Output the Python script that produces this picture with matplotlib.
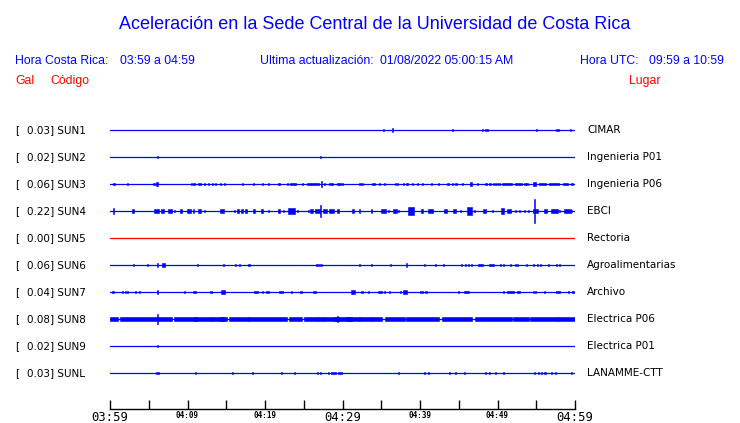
import matplotlib
matplotlib.use("Agg")
import matplotlib.pyplot as plt
import matplotlib.transforms as mtransforms

# ---------------- data ----------------
stations = ["SUN1", "SUN2", "SUN3", "SUN4", "SUN5", "SUN6", "SUN7", "SUN8", "SUN9", "SUNL"]
peak_gal = ["0.03", "0.02", "0.06", "0.22", "0.00", "0.06", "0.04", "0.08", "0.02", "0.03"]
places = ["CIMAR", "Ingenieria P01", "Ingenieria P06", "EBCI", "Rectoria",
          "Agroalimentarias", "Archivo", "Electrica P06", "Electrica P01", "LANAMME-CTT"]
trace_colors = ["blue", "blue", "blue", "blue", "red", "blue", "blue", "blue", "blue", "blue"]

# minutes after 03:59 for ticks, and labels
tick_minutes = [0, 5, 10, 15, 20, 25, 30, 35, 40, 45, 50, 55, 60]
tick_labels = ["03:59", "", "04:09", "", "04:19", "", "04:29", "", "04:39", "", "04:49", "", "04:59"]
big_labels = ["03:59", "04:29", "04:59"]

# bursts per station: (minute, half amplitude in trace units, duration in minutes)
sun1 = [(35.3, 0.03, 0.13), (36.5, 0.09, 0.13), (44.2, 0.05, 0.22), (48.1, 0.04, 0.13),
        (48.6, 0.05, 0.45), (55.0, 0.04, 0.13), (57.7, 0.05, 0.35), (59.4, 0.04, 0.13)]
sun2 = [(6.1, 0.05, 0.13), (27.2, 0.05, 0.13)]
sun3 = [(0.52, 0.05, 0.22), (2.24, 0.04, 0.13), (5.69, 0.05, 0.22), (6.12, 0.09, 0.26),
        (10.47, 0.04, 0.13), (10.82, 0.05, 0.17), (11.51, 0.05, 0.43), (12.20, 0.04, 0.13),
        (12.71, 0.04, 0.13), (13.23, 0.04, 0.13), (13.58, 0.04, 0.13), (14.27, 0.05, 0.22),
        (14.78, 0.03, 0.13), (17.15, 0.04, 0.13), (18.58, 0.04, 0.13), (19.70, 0.04, 0.13),
        (20.47, 0.04, 0.13), (21.85, 0.05, 0.26), (22.84, 0.04, 0.13), (23.58, 0.05, 0.78),
        (24.78, 0.04, 0.13), (26.16, 0.05, 1.5), (27.28, 0.12, 0.13), (27.67, 0.05, 0.17),
        (28.49, 0.05, 0.52), (29.52, 0.05, 0.52), (30.04, 0.04, 0.13), (32.20, 0.05, 0.26),
        (32.54, 0.04, 0.13), (33.96, 0.05, 0.34), (34.78, 0.04, 0.13), (35.47, 0.04, 0.13),
        (36.85, 0.04, 0.13), (37.11, 0.05, 0.22), (37.84, 0.04, 0.13), (38.36, 0.05, 0.26),
        (39.01, 0.03, 0.13), (39.74, 0.04, 0.13), (40.34, 0.05, 0.22), (41.42, 0.04, 0.13),
        (42.45, 0.04, 0.13), (43.57, 0.05, 0.22), (44.22, 0.04, 0.13), (44.69, 0.05, 0.22),
        (45.51, 0.04, 0.13), (46.59, 0.09, 0.26), (47.41, 0.04, 0.13), (48.49, 0.05, 0.22),
        (49.01, 0.05, 0.22), (49.44, 0.04, 0.13), (49.78, 0.04, 0.13), (50.04, 0.04, 0.13),
        (50.30, 0.04, 0.13), (51.29, 0.05, 1.29), (52.71, 0.05, 0.86), (53.66, 0.05, 0.43),
        (54.74, 0.09, 0.34), (55.82, 0.05, 0.86), (57.32, 0.05, 1.29), (58.75, 0.05, 0.65),
        (59.61, 0.05, 0.22)]
sun4 = [(0.43, 0.12, 0.17), (3.02, 0.07, 0.26), (5.95, 0.07, 0.65), (6.77, 0.06, 0.43),
        (7.76, 0.06, 0.52), (8.28, 0.04, 0.13), (9.14, 0.06, 0.26), (10.21, 0.07, 0.43),
        (10.78, 0.07, 0.13), (11.51, 0.09, 0.43), (12.20, 0.04, 0.13), (14.44, 0.07, 0.43),
        (16.08, 0.04, 0.13), (16.51, 0.06, 0.26), (17.02, 0.06, 0.26), (17.54, 0.06, 0.26),
        (18.58, 0.07, 0.26), (19.61, 0.06, 0.17), (20.39, 0.04, 0.13), (21.81, 0.07, 0.26),
        (22.41, 0.03, 0.13), (23.40, 0.11, 0.86), (24.14, 0.04, 0.13), (25.64, 0.04, 0.13),
        (25.99, 0.06, 0.34), (26.81, 0.09, 0.65), (27.20, 0.22, 0.13), (27.80, 0.09, 0.52),
        (28.58, 0.09, 0.52), (29.39, 0.06, 0.26), (31.38, 0.06, 0.22), (32.20, 0.07, 0.13),
        (33.75, 0.07, 0.13), (35.34, 0.06, 0.65), (35.99, 0.04, 0.13), (36.76, 0.09, 0.43),
        (37.28, 0.04, 0.13), (38.88, 0.13, 0.78), (40.30, 0.07, 0.22), (41.38, 0.06, 0.65),
        (43.32, 0.07, 0.43), (44.44, 0.09, 0.43), (45.26, 0.04, 0.13), (46.33, 0.13, 0.65),
        (46.98, 0.04, 0.13), (48.36, 0.07, 0.34), (49.35, 0.04, 0.13), (50.64, 0.11, 0.34),
        (51.50, 0.09, 0.52), (52.28, 0.04, 0.13), (52.80, 0.04, 0.13), (53.44, 0.04, 0.13),
        (54.00, 0.03, 0.13), (54.74, 0.44, 0.13), (54.95, 0.09, 0.65), (56.16, 0.07, 0.43),
        (57.32, 0.07, 0.86), (57.97, 0.04, 0.13), (59.05, 0.06, 0.86), (59.61, 0.04, 0.13)]
sun5 = []
sun6 = [(3.02, 0.04, 0.13), (4.87, 0.02, 0.13), (6.12, 0.07, 0.13), (6.90, 0.09, 0.43),
        (11.29, 0.04, 0.13), (14.65, 0.04, 0.13), (16.16, 0.04, 0.13), (16.72, 0.02, 0.13),
        (17.97, 0.05, 0.22), (26.59, 0.04, 0.13), (26.81, 0.04, 0.13), (27.02, 0.04, 0.13),
        (27.33, 0.04, 0.13), (32.20, 0.05, 0.22), (33.70, 0.03, 0.13), (36.20, 0.05, 0.22),
        (38.27, 0.07, 0.17), (40.64, 0.04, 0.13), (42.02, 0.04, 0.13), (43.01, 0.04, 0.13),
        (45.30, 0.02, 0.13), (45.82, 0.04, 0.13), (46.25, 0.05, 0.13), (46.59, 0.04, 0.13),
        (47.84, 0.05, 0.65), (49.22, 0.05, 0.65), (50.43, 0.04, 0.13), (50.73, 0.04, 0.13),
        (51.68, 0.04, 0.13), (52.28, 0.04, 0.13), (52.58, 0.04, 0.13), (53.75, 0.05, 0.22),
        (54.69, 0.04, 0.13), (55.17, 0.04, 0.13), (55.60, 0.04, 0.13), (56.55, 0.04, 0.13),
        (57.62, 0.05, 0.22), (58.06, 0.04, 0.13)]
sun7 = [(0.43, 0.05, 0.22), (1.64, 0.04, 0.13), (1.94, 0.04, 0.13), (2.20, 0.04, 0.13),
        (3.32, 0.04, 0.13), (3.75, 0.04, 0.13), (6.12, 0.07, 0.13), (9.61, 0.04, 0.13),
        (10.90, 0.05, 0.34), (13.02, 0.05, 0.22), (14.61, 0.07, 0.52), (18.83, 0.05, 0.52),
        (19.70, 0.04, 0.13), (20.34, 0.05, 0.43), (22.07, 0.05, 0.52), (23.36, 0.04, 0.13),
        (24.65, 0.05, 0.34), (26.42, 0.05, 0.34), (31.33, 0.07, 0.52), (32.54, 0.05, 0.26),
        (33.40, 0.04, 0.13), (34.82, 0.05, 0.52), (35.47, 0.04, 0.13), (36.03, 0.04, 0.13),
        (37.45, 0.04, 0.13), (38.06, 0.07, 0.43), (40.17, 0.05, 0.43), (40.82, 0.05, 0.26),
        (44.95, 0.04, 0.13), (45.99, 0.05, 0.65), (50.77, 0.04, 0.13), (51.72, 0.05, 0.86),
        (52.71, 0.05, 0.26), (54.61, 0.04, 0.13), (54.95, 0.04, 0.13), (56.03, 0.04, 0.13),
        (57.75, 0.05, 0.52), (59.18, 0.04, 0.13), (59.78, 0.05, 0.26)]
sun8 = [(0.54, 0.06, 1.08), (4.63, 0.06, 6.68), (11.69, 0.06, 6.81), (19.12, 0.06, 7.45),
        (23.92, 0.06, 1.72), (30.07, 0.06, 10.13), (36.74, 0.06, 2.54), (40.34, 0.06, 4.22),
        (44.78, 0.06, 3.96), (49.48, 0.06, 4.74), (53.01, 0.06, 1.98), (57.09, 0.06, 5.82),
        (6.12, 0.19, 0.13), (10.99, 0.09, 0.43), (13.02, 0.09, 0.13), (14.44, 0.09, 0.43),
        (17.89, 0.07, 0.13), (26.81, 0.07, 0.13), (27.37, 0.07, 0.13), (29.18, 0.09, 0.65),
        (29.40, 0.11, 0.13), (30.82, 0.09, 0.86), (32.20, 0.07, 0.13), (33.83, 0.07, 0.13),
        (57.75, 0.07, 0.13)]
sun9 = [(6.12, 0.05, 0.22)]
sunl = [(6.12, 0.05, 0.34), (11.08, 0.04, 0.13), (15.86, 0.03, 0.13), (18.40, 0.04, 0.13),
        (22.11, 0.04, 0.13), (23.83, 0.04, 0.13), (26.81, 0.04, 0.13), (27.15, 0.04, 0.13),
        (28.23, 0.03, 0.13), (28.79, 0.05, 0.65), (29.74, 0.05, 0.52), (37.28, 0.04, 0.13),
        (40.56, 0.03, 0.13), (41.16, 0.03, 0.13), (43.75, 0.04, 0.13), (44.52, 0.04, 0.13),
        (45.69, 0.04, 0.13), (48.49, 0.04, 0.13), (48.92, 0.04, 0.13), (49.69, 0.04, 0.13),
        (50.73, 0.03, 0.13), (54.74, 0.04, 0.13), (55.25, 0.04, 0.13), (55.73, 0.03, 0.13),
        (56.12, 0.05, 0.22), (57.02, 0.04, 0.13), (57.54, 0.04, 0.13), (59.56, 0.05, 0.22)]
bursts = [sun1, sun2, sun3, sun4, sun5, sun6, sun7, sun8, sun9, sunl]

title = "Aceleración en la Sede Central de la Universidad de Costa Rica"
hora_cr = "03:59 a 04:59"
hora_utc = "09:59 a 10:59"
updated = "01/08/2022 05:00:15 AM"

# ---------------- figure ----------------
W, H = 740, 423
fig = plt.figure(figsize=(W / 100, H / 100), dpi=100)
fig.patch.set_facecolor("white")

def fx(px):
    return px / W

def fy(py):
    return 1 - py / H

ax_left, ax_right, ax_top, ax_bottom = 110, 575, 117, 409
ax = fig.add_axes([fx(ax_left), fy(ax_bottom), fx(ax_right) - fx(ax_left), fy(ax_top) - fy(ax_bottom)])
row_px0, row_step = 130, 27
ax.set_xlim(tick_minutes[0], tick_minutes[-1])
ax.set_ylim((ax_bottom - row_px0) / row_step, (ax_top - row_px0) / row_step)

for i, (col, bl) in enumerate(zip(trace_colors, bursts)):
    ax.axhline(i, color=col, lw=0.9, zorder=2)
    if bl:
        xs = [b[0] for b in bl]
        amps = [b[1] for b in bl]
        ws = [b[2] for b in bl]
        ax.bar(xs, [2 * a for a in amps], width=ws, bottom=[i - a for a in amps],
               color=col, linewidth=0.4, edgecolor=col, zorder=3)

for s in ["top", "left", "right"]:
    ax.spines[s].set_visible(False)
ax.spines["bottom"].set_linewidth(1.0)
ax.set_yticks([])
ax.set_xticks(tick_minutes)
ax.set_xticklabels(tick_labels)
ax.tick_params(axis="x", direction="in", length=6.5, width=1.0, pad=1.5, color="black")
for lab in ax.get_xticklabels():
    lab.set_fontfamily("DejaVu Sans Mono")
    if lab.get_text() in big_labels:
        lab.set_fontsize(8.8)
    else:
        lab.set_fontsize(5.5)
        lab.set_fontweight("bold")

# station labels
trans = mtransforms.blended_transform_factory(fig.transFigure, ax.transData)
lab_font = dict(family="DejaVu Sans", fontsize=7.5, color="black", va="center")
for i, (st, g, pl) in enumerate(zip(stations, peak_gal, places)):
    fig.text(fx(15), i, "[", transform=trans, ha="left", **lab_font)
    fig.text(fx(27), i, f"{g}] {st}", transform=trans, ha="left", **lab_font)
    fig.text(fx(587), i, pl, transform=trans, ha="left", **lab_font)

# header
blue = "#0000ff"
red = "#ff0000"
hf = "Liberation Sans"
hs = 8.8
fig.text(fx(375), fy(29), title, ha="center", va="baseline", color=blue, fontsize=13.0, family=hf)
fig.text(fx(15), fy(64.3), "Hora Costa Rica:", ha="left", va="baseline", color=blue, fontsize=hs, family=hf)
fig.text(fx(120), fy(64.3), hora_cr, ha="left", va="baseline", color=blue, fontsize=hs, family=hf)
fig.text(fx(260), fy(64.3), "Ultima actualización:", ha="left", va="baseline", color=blue, fontsize=hs, family=hf)
fig.text(fx(380), fy(64.3), updated, ha="left", va="baseline", color=blue, fontsize=hs, family=hf)
fig.text(fx(580), fy(64.3), "Hora UTC:", ha="left", va="baseline", color=blue, fontsize=hs, family=hf)
fig.text(fx(724), fy(64.3), hora_utc, ha="right", va="baseline", color=blue, fontsize=hs, family=hf)
fig.text(fx(15), fy(84.3), "Gal", ha="left", va="baseline", color=red, fontsize=hs, family=hf)
fig.text(fx(50), fy(84.3), "Código", ha="left", va="baseline", color=red, fontsize=hs, family=hf)
fig.text(fx(661), fy(84.3), "Lugar", ha="right", va="baseline", color=red, fontsize=hs, family=hf)

fig.savefig("out.png", dpi=100)
